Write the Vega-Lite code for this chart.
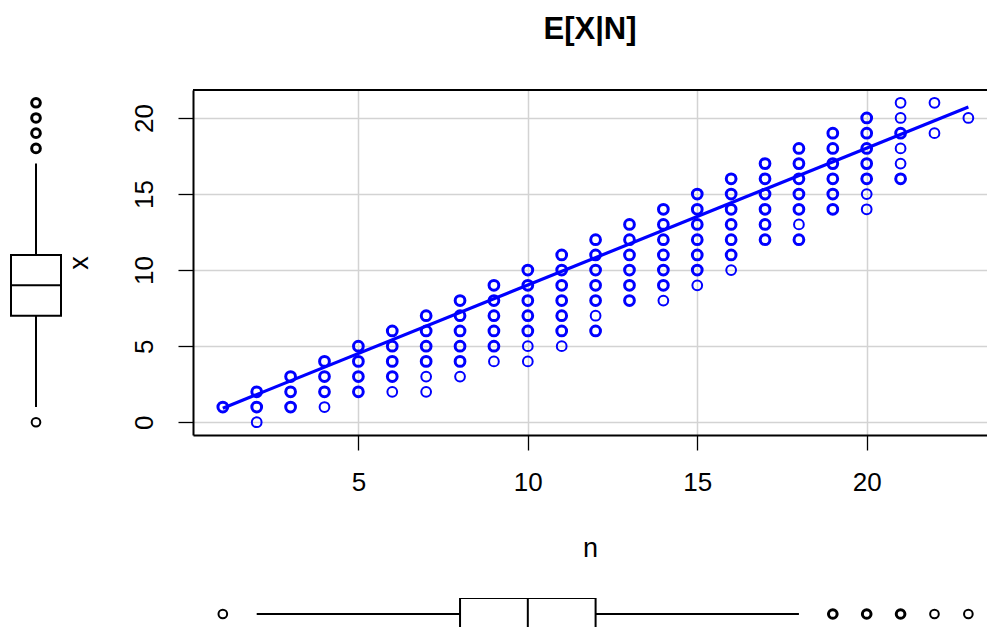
{
  "$schema": "https://vega.github.io/schema/vega-lite/v6.json",
  "padding": {"left": 10, "top": 14, "right": 0, "bottom": 0},
  "background": "white",
  "config": {"view": {"stroke": null}, "font": "Liberation Sans"},
  "bounds": "flush",
  "align": "each",
  "columns": 2,
  "spacing": {"row": 163, "column": 132},
  "resolve": {"scale": {"x": "independent", "y": "independent"}},
  "datasets": {
    "pts": [
      {"n":1,"x":1,"k":3},
      {"n":2,"x":0,"k":1},{"n":2,"x":1,"k":3},{"n":2,"x":2,"k":3},
      {"n":3,"x":1,"k":3},{"n":3,"x":2,"k":3},{"n":3,"x":3,"k":3},
      {"n":4,"x":1,"k":1},{"n":4,"x":2,"k":3},{"n":4,"x":3,"k":3},{"n":4,"x":4,"k":3},
      {"n":5,"x":2,"k":3},{"n":5,"x":3,"k":3},{"n":5,"x":4,"k":3},{"n":5,"x":5,"k":3},
      {"n":6,"x":2,"k":1},{"n":6,"x":3,"k":3},{"n":6,"x":4,"k":3},{"n":6,"x":5,"k":3},{"n":6,"x":6,"k":3},
      {"n":7,"x":2,"k":1},{"n":7,"x":3,"k":1},{"n":7,"x":4,"k":3},{"n":7,"x":5,"k":3},{"n":7,"x":6,"k":3},{"n":7,"x":7,"k":3},
      {"n":8,"x":3,"k":1},{"n":8,"x":4,"k":3},{"n":8,"x":5,"k":3},{"n":8,"x":6,"k":3},{"n":8,"x":7,"k":3},{"n":8,"x":8,"k":3},
      {"n":9,"x":4,"k":1},{"n":9,"x":5,"k":3},{"n":9,"x":6,"k":3},{"n":9,"x":7,"k":3},{"n":9,"x":8,"k":3},{"n":9,"x":9,"k":3},
      {"n":10,"x":4,"k":1},{"n":10,"x":5,"k":1},{"n":10,"x":6,"k":3},{"n":10,"x":7,"k":3},{"n":10,"x":8,"k":3},{"n":10,"x":9,"k":3},{"n":10,"x":10,"k":3},
      {"n":11,"x":5,"k":1},{"n":11,"x":6,"k":3},{"n":11,"x":7,"k":3},{"n":11,"x":8,"k":3},{"n":11,"x":9,"k":3},{"n":11,"x":10,"k":3},{"n":11,"x":11,"k":3},
      {"n":12,"x":6,"k":3},{"n":12,"x":7,"k":1},{"n":12,"x":8,"k":3},{"n":12,"x":9,"k":3},{"n":12,"x":10,"k":3},{"n":12,"x":11,"k":3},{"n":12,"x":12,"k":3},
      {"n":13,"x":8,"k":3},{"n":13,"x":9,"k":3},{"n":13,"x":10,"k":3},{"n":13,"x":11,"k":3},{"n":13,"x":12,"k":3},{"n":13,"x":13,"k":3},
      {"n":14,"x":8,"k":1},{"n":14,"x":9,"k":3},{"n":14,"x":10,"k":3},{"n":14,"x":11,"k":3},{"n":14,"x":12,"k":3},{"n":14,"x":13,"k":3},{"n":14,"x":14,"k":3},
      {"n":15,"x":9,"k":1},{"n":15,"x":10,"k":3},{"n":15,"x":11,"k":3},{"n":15,"x":12,"k":3},{"n":15,"x":13,"k":3},{"n":15,"x":14,"k":3},{"n":15,"x":15,"k":3},
      {"n":16,"x":10,"k":1},{"n":16,"x":11,"k":3},{"n":16,"x":12,"k":3},{"n":16,"x":13,"k":3},{"n":16,"x":14,"k":3},{"n":16,"x":15,"k":3},{"n":16,"x":16,"k":3},
      {"n":17,"x":12,"k":3},{"n":17,"x":13,"k":3},{"n":17,"x":14,"k":3},{"n":17,"x":15,"k":3},{"n":17,"x":16,"k":3},{"n":17,"x":17,"k":3},
      {"n":18,"x":12,"k":3},{"n":18,"x":13,"k":1},{"n":18,"x":14,"k":3},{"n":18,"x":15,"k":3},{"n":18,"x":16,"k":3},{"n":18,"x":17,"k":3},{"n":18,"x":18,"k":3},
      {"n":19,"x":14,"k":3},{"n":19,"x":15,"k":3},{"n":19,"x":16,"k":3},{"n":19,"x":17,"k":3},{"n":19,"x":18,"k":3},{"n":19,"x":19,"k":3},
      {"n":20,"x":14,"k":1},{"n":20,"x":15,"k":1},{"n":20,"x":16,"k":3},{"n":20,"x":17,"k":3},{"n":20,"x":18,"k":3},{"n":20,"x":19,"k":3},{"n":20,"x":20,"k":3},
      {"n":21,"x":16,"k":3},{"n":21,"x":17,"k":1},{"n":21,"x":18,"k":1},{"n":21,"x":19,"k":3},{"n":21,"x":20,"k":1},{"n":21,"x":21,"k":1},
      {"n":22,"x":19,"k":1},{"n":22,"x":21,"k":1},
      {"n":23,"x":20,"k":1}
    ],
    "fit": [{"n":1,"fit":0.92},{"n":23,"fit":20.72}],
    "box": [
      {"var":"x","lower":1,"q1":7,"median":9,"q3":11,"upper":17},
      {"var":"n","lower":2,"q1":8,"median":10,"q3":12,"upper":18}
    ],
    "out": [
      {"var":"x","value":0,"k":1},{"var":"x","value":18,"k":3},{"var":"x","value":19,"k":3},{"var":"x","value":20,"k":3},{"var":"x","value":21,"k":3},
      {"var":"n","value":1,"k":1},{"var":"n","value":19,"k":3},{"var":"n","value":20,"k":3},{"var":"n","value":21,"k":3},{"var":"n","value":22,"k":1},{"var":"n","value":23,"k":1}
    ]
  },
  "concat": [
    {
      "width": 50,
      "height": 345,
      "layer": [
        {
          "data": {"name": "box"},
          "transform": [{"filter": "datum.var === 'x'"}],
          "mark": {"type": "rule", "color": "black", "strokeWidth": 2},
          "encoding": {
            "x": {"datum": 0.5, "type": "quantitative", "scale": {"domain": [0, 1], "nice": false, "zero": false}, "axis": null},
            "y": {"field": "lower", "type": "quantitative", "scale": {"domain": [-0.84, 21.84], "nice": false, "zero": false}, "axis": null},
            "y2": {"field": "upper"}
          }
        },
        {
          "data": {"name": "box"},
          "transform": [{"filter": "datum.var === 'x'"}],
          "mark": {"type": "rect", "fill": "white", "stroke": "black", "strokeWidth": 2},
          "encoding": {
            "x": {"datum": 0, "type": "quantitative", "axis": null},
            "x2": {"datum": 1},
            "y": {"field": "q1", "type": "quantitative", "axis": null},
            "y2": {"field": "q3"}
          }
        },
        {
          "data": {"name": "box"},
          "transform": [{"filter": "datum.var === 'x'"}],
          "mark": {"type": "rule", "color": "black", "strokeWidth": 2},
          "encoding": {
            "x": {"datum": 0, "type": "quantitative", "axis": null},
            "x2": {"datum": 1},
            "y": {"field": "median", "type": "quantitative", "axis": null}
          }
        },
        {
          "data": {"name": "out"},
          "transform": [{"filter": "datum.var === 'x'"}],
          "mark": {"type": "point", "shape": "circle", "filled": false, "color": "black", "size": 75, "opacity": 1},
          "encoding": {
            "x": {"datum": 0.5, "type": "quantitative", "axis": null},
            "y": {"field": "value", "type": "quantitative", "axis": null},
            "strokeWidth": {"field": "k", "type": "quantitative", "scale": {"domain": [1, 3], "range": [2, 3]}, "legend": null}
          }
        }
      ]
    },
    {
      "width": 794,
      "height": 345,
      "title": {"text": "E[X|N]", "fontSize": 31, "fontWeight": "bold", "frame": "group", "anchor": "middle", "baseline": "alphabetic", "offset": 19, "color": "black", "font": "Liberation Sans"},
      "layer": [
        {
          "data": {"name": "pts"},
          "mark": {"type": "point", "shape": "circle", "filled": false, "color": "#0000FF", "size": 95, "opacity": 1},
          "encoding": {
            "x": {
              "field": "n", "type": "quantitative", "title": "n",
              "scale": {"domain": [0.12, 23.55], "nice": false, "zero": false},
              "axis": {"values": [5, 10, 15, 20], "grid": true, "gridColor": "#D3D3D3", "gridWidth": 1.5,
                       "domain": true, "domainColor": "black", "domainWidth": 2,
                       "ticks": true, "tickColor": "black", "tickWidth": 1.3, "tickSize": 15,
                       "labelFontSize": 26, "labelColor": "black", "labelFont": "Liberation Sans", "labelPadding": 40, "labelBaseline": "alphabetic", "labelFlush": false, "labelOverlap": false,
                       "titleFontSize": 27, "titleFontWeight": "normal", "titleColor": "black", "titleFont": "Liberation Sans", "titlePadding": 61, "titleBaseline": "alphabetic"}
            },
            "y": {
              "field": "x", "type": "quantitative", "title": "x",
              "scale": {"domain": [-0.84, 21.84], "nice": false, "zero": false},
              "axis": {"values": [0, 5, 10, 15, 20], "grid": true, "gridColor": "#D3D3D3", "gridWidth": 1.5,
                       "domain": true, "domainColor": "black", "domainWidth": 2,
                       "ticks": true, "tickColor": "black", "tickWidth": 1.3, "tickSize": 15,
                       "labelFontSize": 26, "labelColor": "black", "labelFont": "Liberation Sans", "labelAngle": -90, "labelAlign": "center", "labelBaseline": "alphabetic", "labelPadding": 26, "labelFlush": false, "labelOverlap": false,
                       "titleFontSize": 27, "titleFontWeight": "normal", "titleColor": "black", "titleFont": "Liberation Sans", "titleAngle": -90, "titleBaseline": "alphabetic", "titlePadding": 44}
            },
            "strokeWidth": {"field": "k", "type": "quantitative", "scale": {"domain": [1, 3], "range": [1.4, 2.6]}, "legend": null}
          }
        },
        {
          "data": {"name": "fit"},
          "mark": {"type": "line", "color": "#0000FF", "strokeWidth": 3.2},
          "encoding": {
            "x": {"field": "n", "type": "quantitative", "title": "n"},
            "y": {"field": "fit", "type": "quantitative", "title": "x"}
          }
        },
        {
          "data": {"values": [{}]},
          "mark": {"type": "rule", "color": "black", "strokeWidth": 2},
          "encoding": {
            "y": {"datum": 21.84, "type": "quantitative", "title": "x"}
          }
        }
      ]
    },
    {
      "width": 50,
      "height": 29,
      "data": {"values": [{}]},
      "mark": {"type": "point", "opacity": 0},
      "encoding": {}
    },
    {
      "width": 794,
      "height": 29,
      "layer": [
        {
          "data": {"name": "box"},
          "transform": [{"filter": "datum.var === 'n'"}],
          "mark": {"type": "rule", "color": "black", "strokeWidth": 2},
          "encoding": {
            "x": {"field": "lower", "type": "quantitative", "scale": {"domain": [0.12, 23.55], "nice": false, "zero": false}, "axis": null},
            "x2": {"field": "upper"},
            "y": {"datum": 0, "type": "quantitative", "scale": {"domain": [-0.8125, 1], "nice": false, "zero": false}, "axis": null}
          }
        },
        {
          "data": {"name": "box"},
          "transform": [{"filter": "datum.var === 'n'"}],
          "mark": {"type": "rect", "fill": "white", "stroke": "black", "strokeWidth": 2, "clip": true},
          "encoding": {
            "x": {"field": "q1", "type": "quantitative", "axis": null},
            "x2": {"field": "q3"},
            "y": {"datum": -1, "type": "quantitative", "axis": null},
            "y2": {"datum": 1}
          }
        },
        {
          "data": {"name": "box"},
          "transform": [{"filter": "datum.var === 'n'"}],
          "mark": {"type": "rule", "color": "black", "strokeWidth": 2, "clip": true},
          "encoding": {
            "x": {"field": "median", "type": "quantitative", "axis": null},
            "y": {"datum": -1, "type": "quantitative", "axis": null},
            "y2": {"datum": 1}
          }
        },
        {
          "data": {"name": "out"},
          "transform": [{"filter": "datum.var === 'n'"}],
          "mark": {"type": "point", "shape": "circle", "filled": false, "color": "black", "size": 75, "opacity": 1},
          "encoding": {
            "x": {"field": "value", "type": "quantitative", "axis": null},
            "y": {"datum": 0, "type": "quantitative", "axis": null},
            "strokeWidth": {"field": "k", "type": "quantitative", "scale": {"domain": [1, 3], "range": [2, 3]}, "legend": null}
          }
        }
      ]
    }
  ]
}
